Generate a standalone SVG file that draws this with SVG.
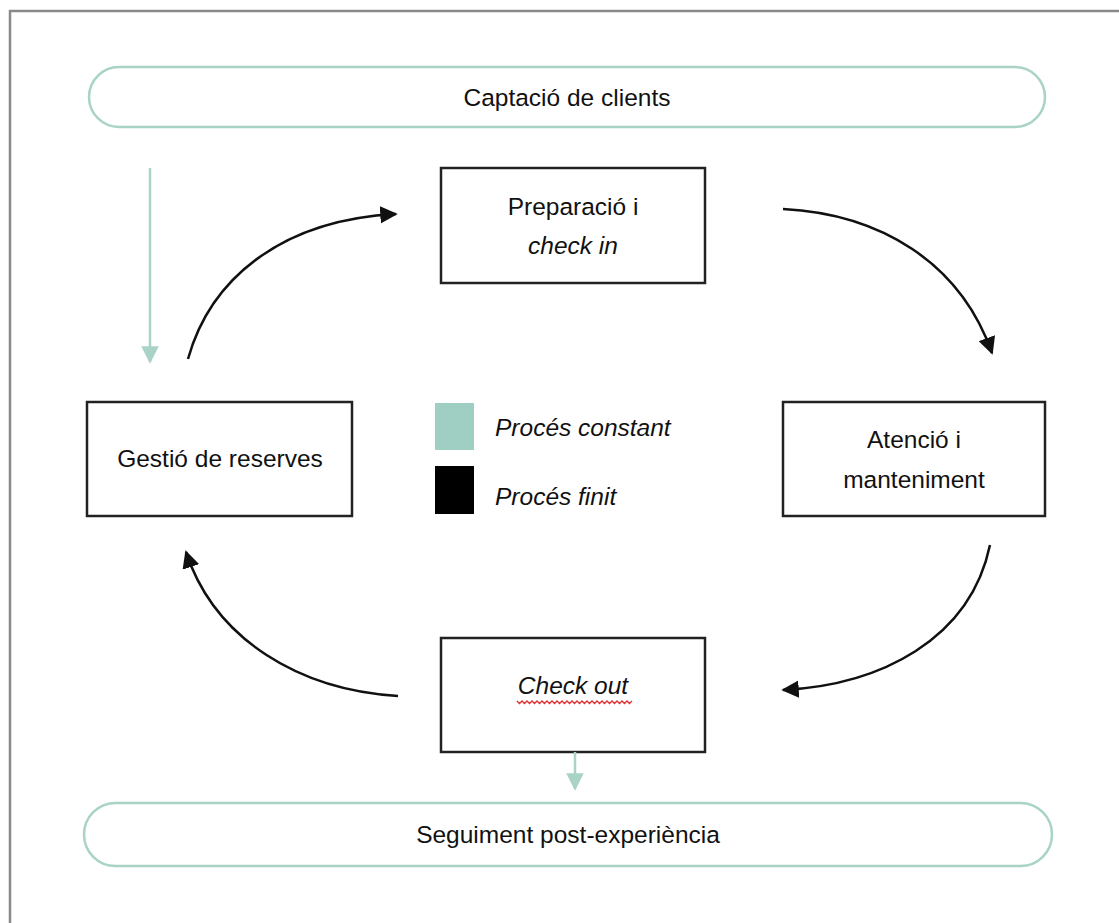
<svg xmlns="http://www.w3.org/2000/svg" width="1119" height="923" viewBox="0 0 1119 923">
  <style>
    .bg { fill: #ffffff; }
    .frame { fill: none; stroke: #8a8a8a; stroke-width: 2.5; }
    .pill { fill: #ffffff; stroke: #a9d3c7; stroke-width: 2.5; }
    .box { fill: #ffffff; stroke: #222222; stroke-width: 2.5; }
    .lbl { font-family: "Liberation Sans", Arial, sans-serif; font-size: 24.5px; fill: #111111; text-anchor: middle; }
    .leg { font-family: "Liberation Sans", Arial, sans-serif; font-size: 24.5px; fill: #111111; font-style: italic; }
    .it { font-style: italic; }
    .flow { fill: none; stroke: #111111; stroke-width: 2.5; }
    .const { fill: none; stroke: #a9d3c7; stroke-width: 2.5; }
    .squig { fill: none; stroke: #e03030; stroke-width: 1.3; }
  </style>
  <defs>
    <marker id="head" viewBox="0 0 10 10" refX="9" refY="5" markerWidth="7" markerHeight="7" orient="auto" markerUnits="strokeWidth">
      <path d="M0,0 L10,5 L0,10 Z" fill="#111111"/>
    </marker>
    <marker id="headTeal" viewBox="0 0 10 10" refX="9" refY="5" markerWidth="7" markerHeight="7" orient="auto" markerUnits="strokeWidth">
      <path d="M0,0 L10,5 L0,10 Z" fill="#a9d3c7"/>
    </marker>
  </defs>

  <rect class="bg" x="0" y="0" width="1119" height="923"/>
  <!-- page frame (top and left edges) -->
  <path class="frame" d="M10,923 L10,11 L1119,11"/>

  <g id="captacio">
    <rect class="pill" x="89" y="67" width="956" height="60" rx="30" ry="30"/>
    <text class="lbl" x="567" y="106">Captació de clients</text>
  </g>

  <g id="preparacio">
    <rect class="box" x="441" y="168" width="264" height="115"/>
    <text class="lbl" x="573" y="215">Preparació i</text>
    <text class="lbl it" x="573" y="254">check in</text>
  </g>

  <g id="gestio">
    <rect class="box" x="87" y="402" width="265" height="114"/>
    <text class="lbl" x="220" y="467">Gestió de reserves</text>
  </g>

  <g id="atencio">
    <rect class="box" x="783" y="402" width="262" height="114"/>
    <text class="lbl" x="914" y="448">Atenció i</text>
    <text class="lbl" x="914" y="488">manteniment</text>
  </g>

  <g id="checkout">
    <rect class="box" x="441" y="638" width="264" height="114"/>
    <text class="lbl it" x="573" y="694">Check out</text>
    <!-- spell-check wave under the label -->
    <path class="squig" d="M517,701 l2.5,2.5 l2.5,-2.5 l2.5,2.5 l2.5,-2.5 l2.5,2.5 l2.5,-2.5 l2.5,2.5 l2.5,-2.5 l2.5,2.5 l2.5,-2.5 l2.5,2.5 l2.5,-2.5 l2.5,2.5 l2.5,-2.5 l2.5,2.5 l2.5,-2.5 l2.5,2.5 l2.5,-2.5 l2.5,2.5 l2.5,-2.5 l2.5,2.5 l2.5,-2.5 l2.5,2.5 l2.5,-2.5 l2.5,2.5 l2.5,-2.5 l2.5,2.5 l2.5,-2.5 l2.5,2.5 l2.5,-2.5 l2.5,2.5 l2.5,-2.5 l2.5,2.5 l2.5,-2.5 l2.5,2.5 l2.5,-2.5 l2.5,2.5 l2.5,-2.5 l2.5,2.5 l2.5,-2.5 l2.5,2.5 l2.5,-2.5 l2.5,2.5 l2.5,-2.5 l2.5,2.5 l2.5,-2.5"/>
  </g>

  <g id="seguiment">
    <rect class="pill" x="84" y="803" width="968" height="63" rx="31.5" ry="31.5"/>
    <text class="lbl" x="568" y="843">Seguiment post-experiència</text>
  </g>

  <g id="legend">
    <rect x="435" y="403" width="39" height="47" fill="#9ecfc2"/>
    <text class="leg" x="495" y="436">Procés constant</text>
    <rect x="435" y="466" width="39" height="48" fill="#000000"/>
    <text class="leg" x="495" y="505">Procés finit</text>
  </g>

  <g id="connectors">
    <path class="flow" d="M188,359 C210,280 280,220 396,214" marker-end="url(#head)"/>
    <path class="flow" d="M783,209 C880,214 960,262 992,353" marker-end="url(#head)"/>
    <path class="flow" d="M990,545 C970,640 880,685 783,690" marker-end="url(#head)"/>
    <path class="flow" d="M398,696 C300,690 215,640 186,552" marker-end="url(#head)"/>
    <path class="const" d="M150,168 L150,362" marker-end="url(#headTeal)"/>
    <path class="const" d="M575,752 L575,789" marker-end="url(#headTeal)"/>
  </g>
</svg>
